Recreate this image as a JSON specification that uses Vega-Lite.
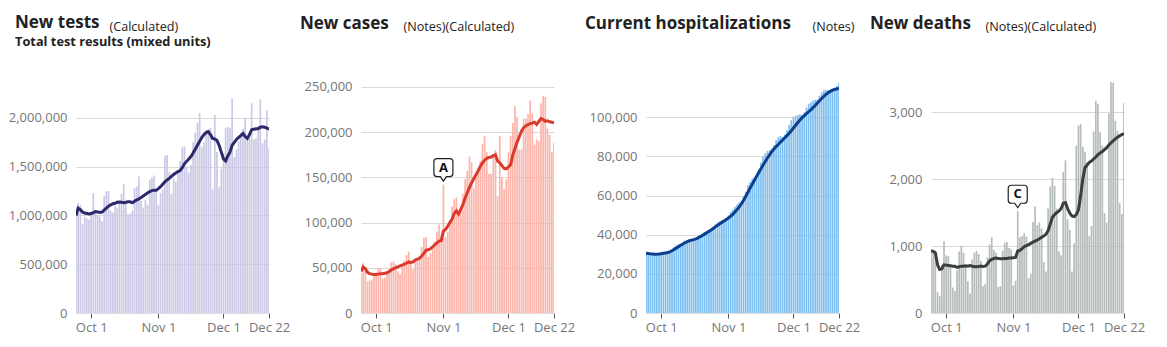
{
"$schema": "https://vega.github.io/schema/vega-lite/v6.json",
"padding": {"top": 14, "left": 8, "right": 5, "bottom": 5},
"background": "white",
"spacing": 92,
"bounds": "flush",
"config": {
  "view": {"stroke": null},
  "font": "Open Sans",
  "scale": {"continuousPadding": 0},
  "axisY": {"grid": true, "gridColor": "#d9d9d9", "domain": false, "ticks": false, "labelFontSize": 13, "labelColor": "#767676", "labelPadding": 9, "format": ",d", "zindex": 1, "titleAngle": 0, "titleAlign": "left", "titleBaseline": "alphabetic", "titleY": -52, "titleFontSize": 12.6, "titleFontWeight": "normal", "titleColor": "#222222", "titleFont": "Open Sans"},
  "axisX": {"grid": false, "domain": true, "domainColor": "#dddddd", "tickColor": "#555555", "tickSize": 5, "labelPadding": 3, "labelFontSize": 13, "labelColor": "#767676", "format": "%b %-d", "title": null, "labelOverlap": false, "labelBound": false, "labelFlush": false},
  "title": {"anchor": "start", "frame": "group", "dx": -61, "fontSize": 17, "fontWeight": "bold", "color": "#222222", "font": "Open Sans", "subtitleFont": "Open Sans", "subtitleFontSize": 12.8, "subtitleFontWeight": "bold", "subtitleColor": "#222222", "subtitlePadding": 4}
},
"datasets": {
"tests": [
{"date":"2020-09-24","daily":1000000,"avg":1000000},{"date":"2020-09-25","daily":1130000,"avg":1075000},{"date":"2020-09-26","daily":1110000,"avg":1060000},{"date":"2020-09-27","daily":910000,"avg":1035000},{"date":"2020-09-28","daily":990000,"avg":1025000},{"date":"2020-09-29","daily":970000,"avg":1020000},{"date":"2020-09-30","daily":960000,"avg":1015000},
{"date":"2020-10-01","daily":1030000,"avg":1020000},{"date":"2020-10-02","daily":1230000,"avg":1030000},{"date":"2020-10-03","daily":1050000,"avg":1040000},{"date":"2020-10-04","daily":1000000,"avg":1035000},{"date":"2020-10-05","daily":990000,"avg":1030000},{"date":"2020-10-06","daily":940000,"avg":1035000},{"date":"2020-10-07","daily":1200000,"avg":1055000},{"date":"2020-10-08","daily":1250000,"avg":1075000},{"date":"2020-10-09","daily":1250000,"avg":1095000},{"date":"2020-10-10","daily":1050000,"avg":1110000},{"date":"2020-10-11","daily":1030000,"avg":1120000},{"date":"2020-10-12","daily":1100000,"avg":1125000},{"date":"2020-10-13","daily":1080000,"avg":1135000},{"date":"2020-10-14","daily":1150000,"avg":1138000},{"date":"2020-10-15","daily":1220000,"avg":1135000},{"date":"2020-10-16","daily":1320000,"avg":1132000},{"date":"2020-10-17","daily":1140000,"avg":1135000},{"date":"2020-10-18","daily":1010000,"avg":1140000},{"date":"2020-10-19","daily":1020000,"avg":1140000},{"date":"2020-10-20","daily":1050000,"avg":1130000},{"date":"2020-10-21","daily":1280000,"avg":1145000},{"date":"2020-10-22","daily":1300000,"avg":1160000},{"date":"2020-10-23","daily":1400000,"avg":1170000},{"date":"2020-10-24","daily":1150000,"avg":1185000},{"date":"2020-10-25","daily":1080000,"avg":1200000},{"date":"2020-10-26","daily":1160000,"avg":1215000},{"date":"2020-10-27","daily":1110000,"avg":1230000},{"date":"2020-10-28","daily":1370000,"avg":1245000},{"date":"2020-10-29","daily":1390000,"avg":1255000},{"date":"2020-10-30","daily":1410000,"avg":1260000},{"date":"2020-10-31","daily":1270000,"avg":1260000},
{"date":"2020-11-01","daily":1110000,"avg":1275000},{"date":"2020-11-02","daily":1230000,"avg":1295000},{"date":"2020-11-03","daily":1270000,"avg":1320000},{"date":"2020-11-04","daily":1610000,"avg":1345000},{"date":"2020-11-05","daily":1620000,"avg":1365000},{"date":"2020-11-06","daily":1450000,"avg":1380000},{"date":"2020-11-07","daily":1220000,"avg":1400000},{"date":"2020-11-08","daily":1380000,"avg":1420000},{"date":"2020-11-09","daily":1350000,"avg":1435000},{"date":"2020-11-10","daily":1450000,"avg":1450000},{"date":"2020-11-11","daily":1560000,"avg":1460000},{"date":"2020-11-12","daily":1700000,"avg":1490000},{"date":"2020-11-13","daily":1710000,"avg":1530000},{"date":"2020-11-14","daily":1500000,"avg":1555000},{"date":"2020-11-15","daily":1440000,"avg":1580000},{"date":"2020-11-16","daily":1520000,"avg":1605000},{"date":"2020-11-17","daily":1750000,"avg":1640000},{"date":"2020-11-18","daily":1850000,"avg":1680000},{"date":"2020-11-19","daily":1950000,"avg":1720000},{"date":"2020-11-20","daily":2050000,"avg":1760000},{"date":"2020-11-21","daily":1700000,"avg":1800000},{"date":"2020-11-22","daily":1750000,"avg":1830000},{"date":"2020-11-23","daily":1880000,"avg":1850000},{"date":"2020-11-24","daily":1880000,"avg":1860000},{"date":"2020-11-25","daily":1900000,"avg":1830000},{"date":"2020-11-26","daily":1270000,"avg":1790000},{"date":"2020-11-27","daily":2030000,"avg":1785000},{"date":"2020-11-28","daily":1650000,"avg":1770000},{"date":"2020-11-29","daily":1290000,"avg":1720000},{"date":"2020-11-30","daily":1480000,"avg":1650000},
{"date":"2020-12-01","daily":1640000,"avg":1580000},{"date":"2020-12-02","daily":1900000,"avg":1560000},{"date":"2020-12-03","daily":1910000,"avg":1610000},{"date":"2020-12-04","daily":1900000,"avg":1650000},{"date":"2020-12-05","daily":2200000,"avg":1720000},{"date":"2020-12-06","daily":1600000,"avg":1750000},{"date":"2020-12-07","daily":1680000,"avg":1780000},{"date":"2020-12-08","daily":1760000,"avg":1800000},{"date":"2020-12-09","daily":1850000,"avg":1820000},{"date":"2020-12-10","daily":1890000,"avg":1840000},{"date":"2020-12-11","daily":2000000,"avg":1810000},{"date":"2020-12-12","daily":1780000,"avg":1790000},{"date":"2020-12-13","daily":1790000,"avg":1830000},{"date":"2020-12-14","daily":2150000,"avg":1880000},{"date":"2020-12-15","daily":1780000,"avg":1885000},{"date":"2020-12-16","daily":1790000,"avg":1890000},{"date":"2020-12-17","daily":1920000,"avg":1890000},{"date":"2020-12-18","daily":2190000,"avg":1905000},{"date":"2020-12-19","daily":1740000,"avg":1910000},{"date":"2020-12-20","daily":1780000,"avg":1905000},{"date":"2020-12-21","daily":2080000,"avg":1895000},{"date":"2020-12-22","daily":1690000,"avg":1885000}
],
"cases": [
{"date":"2020-09-24","daily":44000,"avg":46000},{"date":"2020-09-25","daily":55000,"avg":51000},{"date":"2020-09-26","daily":47000,"avg":49000},{"date":"2020-09-27","daily":35000,"avg":45000},{"date":"2020-09-28","daily":36000,"avg":43500},{"date":"2020-09-29","daily":37000,"avg":43000},{"date":"2020-09-30","daily":43000,"avg":42500},
{"date":"2020-10-01","daily":45000,"avg":42500},{"date":"2020-10-02","daily":50000,"avg":43000},{"date":"2020-10-03","daily":49000,"avg":43500},{"date":"2020-10-04","daily":38000,"avg":43500},{"date":"2020-10-05","daily":39000,"avg":44000},{"date":"2020-10-06","daily":44000,"avg":44500},{"date":"2020-10-07","daily":50000,"avg":46000},{"date":"2020-10-08","daily":56000,"avg":47500},{"date":"2020-10-09","daily":57000,"avg":49000},{"date":"2020-10-10","daily":54000,"avg":50000},{"date":"2020-10-11","daily":46000,"avg":51000},{"date":"2020-10-12","daily":43000,"avg":52000},{"date":"2020-10-13","daily":51000,"avg":53000},{"date":"2020-10-14","daily":58000,"avg":54000},{"date":"2020-10-15","daily":64000,"avg":55000},{"date":"2020-10-16","daily":68000,"avg":56500},{"date":"2020-10-17","daily":57000,"avg":56000},{"date":"2020-10-18","daily":48000,"avg":56500},{"date":"2020-10-19","daily":59000,"avg":58500},{"date":"2020-10-20","daily":60000,"avg":59500},{"date":"2020-10-21","daily":63000,"avg":60500},{"date":"2020-10-22","daily":73000,"avg":63000},{"date":"2020-10-23","daily":83000,"avg":66000},{"date":"2020-10-24","daily":84000,"avg":69500},{"date":"2020-10-25","daily":62000,"avg":70000},{"date":"2020-10-26","daily":66000,"avg":71000},{"date":"2020-10-27","daily":74000,"avg":73000},{"date":"2020-10-28","daily":79000,"avg":75500},{"date":"2020-10-29","daily":90000,"avg":77500},{"date":"2020-10-30","daily":98000,"avg":79500},{"date":"2020-10-31","daily":86000,"avg":80000},
{"date":"2020-11-01","daily":142000,"avg":90500},{"date":"2020-11-02","daily":84000,"avg":92500},{"date":"2020-11-03","daily":90000,"avg":96000},{"date":"2020-11-04","daily":103000,"avg":100000},{"date":"2020-11-05","daily":118000,"avg":104000},{"date":"2020-11-06","daily":126000,"avg":110000},{"date":"2020-11-07","daily":128000,"avg":113000},{"date":"2020-11-08","daily":110000,"avg":109500},{"date":"2020-11-09","daily":118000,"avg":114500},{"date":"2020-11-10","daily":132000,"avg":120000},{"date":"2020-11-11","daily":148000,"avg":127000},{"date":"2020-11-12","daily":157000,"avg":133000},{"date":"2020-11-13","daily":173000,"avg":139000},{"date":"2020-11-14","daily":167000,"avg":144000},{"date":"2020-11-15","daily":138000,"avg":148500},{"date":"2020-11-16","daily":150000,"avg":153000},{"date":"2020-11-17","daily":160000,"avg":157000},{"date":"2020-11-18","daily":168000,"avg":162000},{"date":"2020-11-19","daily":187000,"avg":166000},{"date":"2020-11-20","daily":196000,"avg":169000},{"date":"2020-11-21","daily":178000,"avg":171000},{"date":"2020-11-22","daily":154000,"avg":172000},{"date":"2020-11-23","daily":154000,"avg":172500},{"date":"2020-11-24","daily":175000,"avg":174000},{"date":"2020-11-25","daily":180000,"avg":175000},{"date":"2020-11-26","daily":129000,"avg":168000},{"date":"2020-11-27","daily":196000,"avg":166000},{"date":"2020-11-28","daily":150000,"avg":163000},{"date":"2020-11-29","daily":137000,"avg":160000},{"date":"2020-11-30","daily":148000,"avg":159500},
{"date":"2020-12-01","daily":178000,"avg":161500},{"date":"2020-12-02","daily":196000,"avg":164000},{"date":"2020-12-03","daily":210000,"avg":175000},{"date":"2020-12-04","daily":229000,"avg":182000},{"date":"2020-12-05","daily":217000,"avg":189000},{"date":"2020-12-06","daily":181000,"avg":195000},{"date":"2020-12-07","daily":181000,"avg":201000},{"date":"2020-12-08","daily":215000,"avg":205000},{"date":"2020-12-09","daily":215000,"avg":207000},{"date":"2020-12-10","daily":220000,"avg":208500},{"date":"2020-12-11","daily":235000,"avg":209500},{"date":"2020-12-12","daily":221000,"avg":210000},{"date":"2020-12-13","daily":186000,"avg":211000},{"date":"2020-12-14","daily":192000,"avg":208500},{"date":"2020-12-15","daily":190000,"avg":212000},{"date":"2020-12-16","daily":232000,"avg":215000},{"date":"2020-12-17","daily":240000,"avg":214000},{"date":"2020-12-18","daily":239000,"avg":212000},{"date":"2020-12-19","daily":204000,"avg":212500},{"date":"2020-12-20","daily":197000,"avg":211500},{"date":"2020-12-21","daily":178000,"avg":211000},{"date":"2020-12-22","daily":188000,"avg":210500}
],
"hosp": [
{"date":"2020-09-24","daily":30600,"avg":30500},{"date":"2020-09-25","daily":30200,"avg":30400},{"date":"2020-09-26","daily":30000,"avg":30200},{"date":"2020-09-27","daily":30100,"avg":30100},{"date":"2020-09-28","daily":30300,"avg":30000},{"date":"2020-09-29","daily":30200,"avg":30000},{"date":"2020-09-30","daily":30400,"avg":30100},
{"date":"2020-10-01","daily":30600,"avg":30300},{"date":"2020-10-02","daily":30900,"avg":30500},{"date":"2020-10-03","daily":31000,"avg":30700},{"date":"2020-10-04","daily":31000,"avg":30900},{"date":"2020-10-05","daily":31200,"avg":31200},{"date":"2020-10-06","daily":32500,"avg":31800},{"date":"2020-10-07","daily":33800,"avg":32500},{"date":"2020-10-08","daily":34600,"avg":33200},{"date":"2020-10-09","daily":35000,"avg":33900},{"date":"2020-10-10","daily":35100,"avg":34600},{"date":"2020-10-11","daily":35400,"avg":35300},{"date":"2020-10-12","daily":36400,"avg":36000},{"date":"2020-10-13","daily":36900,"avg":36500},{"date":"2020-10-14","daily":37400,"avg":36900},{"date":"2020-10-15","daily":37600,"avg":37200},{"date":"2020-10-16","daily":37300,"avg":37500},{"date":"2020-10-17","daily":37800,"avg":37900},{"date":"2020-10-18","daily":38900,"avg":38400},{"date":"2020-10-19","daily":39800,"avg":39000},{"date":"2020-10-20","daily":40600,"avg":39600},{"date":"2020-10-21","daily":41300,"avg":40300},{"date":"2020-10-22","daily":41800,"avg":41000},{"date":"2020-10-23","daily":42000,"avg":41700},{"date":"2020-10-24","daily":42600,"avg":42400},{"date":"2020-10-25","daily":44200,"avg":43200},{"date":"2020-10-26","daily":45300,"avg":44000},{"date":"2020-10-27","daily":46200,"avg":44800},{"date":"2020-10-28","daily":46900,"avg":45600},{"date":"2020-10-29","daily":47200,"avg":46300},{"date":"2020-10-30","daily":47600,"avg":47000},{"date":"2020-10-31","daily":48000,"avg":47700},
{"date":"2020-11-01","daily":50000,"avg":48500},{"date":"2020-11-02","daily":51500,"avg":49400},{"date":"2020-11-03","daily":52800,"avg":50400},{"date":"2020-11-04","daily":54300,"avg":51600},{"date":"2020-11-05","daily":55400,"avg":52800},{"date":"2020-11-06","daily":56400,"avg":54200},{"date":"2020-11-07","daily":57000,"avg":55800},{"date":"2020-11-08","daily":59300,"avg":57600},{"date":"2020-11-09","daily":61900,"avg":59600},{"date":"2020-11-10","daily":65400,"avg":61700},{"date":"2020-11-11","daily":67100,"avg":63800},{"date":"2020-11-12","daily":68600,"avg":65800},{"date":"2020-11-13","daily":69300,"avg":67800},{"date":"2020-11-14","daily":69600,"avg":69800},{"date":"2020-11-15","daily":73200,"avg":71800},{"date":"2020-11-16","daily":76900,"avg":73700},{"date":"2020-11-17","daily":79900,"avg":75600},{"date":"2020-11-18","daily":81600,"avg":77400},{"date":"2020-11-19","daily":82800,"avg":79200},{"date":"2020-11-20","daily":83200,"avg":80800},{"date":"2020-11-21","daily":83900,"avg":82400},{"date":"2020-11-22","daily":85700,"avg":83800},{"date":"2020-11-23","daily":88200,"avg":85000},{"date":"2020-11-24","daily":89800,"avg":86100},{"date":"2020-11-25","daily":90500,"avg":87300},{"date":"2020-11-26","daily":89900,"avg":88400},{"date":"2020-11-27","daily":91200,"avg":89500},{"date":"2020-11-28","daily":93300,"avg":90600},{"date":"2020-11-29","daily":96000,"avg":91800},{"date":"2020-11-30","daily":98500,"avg":93100},
{"date":"2020-12-01","daily":100200,"avg":94500},{"date":"2020-12-02","daily":100700,"avg":95900},{"date":"2020-12-03","daily":101200,"avg":97300},{"date":"2020-12-04","daily":101500,"avg":98600},{"date":"2020-12-05","daily":101200,"avg":99800},{"date":"2020-12-06","daily":102500,"avg":100800},{"date":"2020-12-07","daily":104900,"avg":101800},{"date":"2020-12-08","daily":106900,"avg":102800},{"date":"2020-12-09","daily":107600,"avg":103800},{"date":"2020-12-10","daily":108500,"avg":104900},{"date":"2020-12-11","daily":108900,"avg":106000},{"date":"2020-12-12","daily":109000,"avg":107200},{"date":"2020-12-13","daily":111000,"avg":108400},{"date":"2020-12-14","daily":112800,"avg":109600},{"date":"2020-12-15","daily":113700,"avg":110700},{"date":"2020-12-16","daily":114100,"avg":111700},{"date":"2020-12-17","daily":113900,"avg":112500},{"date":"2020-12-18","daily":113400,"avg":113200},{"date":"2020-12-19","daily":114300,"avg":113800},{"date":"2020-12-20","daily":115000,"avg":114200},{"date":"2020-12-21","daily":116000,"avg":114500},{"date":"2020-12-22","daily":117600,"avg":114800}
],
"deaths": [
{"date":"2020-09-24","daily":940,"avg":930},{"date":"2020-09-25","daily":900,"avg":920},{"date":"2020-09-26","daily":880,"avg":900},{"date":"2020-09-27","daily":310,"avg":720},{"date":"2020-09-28","daily":250,"avg":650},{"date":"2020-09-29","daily":720,"avg":660},{"date":"2020-09-30","daily":1070,"avg":720},
{"date":"2020-10-01","daily":860,"avg":715},{"date":"2020-10-02","daily":850,"avg":710},{"date":"2020-10-03","daily":700,"avg":705},{"date":"2020-10-04","daily":380,"avg":700},{"date":"2020-10-05","daily":330,"avg":700},{"date":"2020-10-06","daily":640,"avg":680},{"date":"2020-10-07","daily":920,"avg":690},{"date":"2020-10-08","daily":1000,"avg":700},{"date":"2020-10-09","daily":900,"avg":700},{"date":"2020-10-10","daily":700,"avg":705},{"date":"2020-10-11","daily":470,"avg":700},{"date":"2020-10-12","daily":290,"avg":710},{"date":"2020-10-13","daily":800,"avg":700},{"date":"2020-10-14","daily":900,"avg":690},{"date":"2020-10-15","daily":930,"avg":690},{"date":"2020-10-16","daily":880,"avg":695},{"date":"2020-10-17","daily":780,"avg":700},{"date":"2020-10-18","daily":400,"avg":695},{"date":"2020-10-19","daily":430,"avg":700},{"date":"2020-10-20","daily":830,"avg":730},{"date":"2020-10-21","daily":1020,"avg":780},{"date":"2020-10-22","daily":1130,"avg":800},{"date":"2020-10-23","daily":940,"avg":815},{"date":"2020-10-24","daily":900,"avg":820},{"date":"2020-10-25","daily":390,"avg":815},{"date":"2020-10-26","daily":400,"avg":810},{"date":"2020-10-27","daily":930,"avg":810},{"date":"2020-10-28","daily":1050,"avg":815},{"date":"2020-10-29","daily":1060,"avg":815},{"date":"2020-10-30","daily":970,"avg":820},{"date":"2020-10-31","daily":950,"avg":820},
{"date":"2020-11-01","daily":410,"avg":825},{"date":"2020-11-02","daily":480,"avg":830},{"date":"2020-11-03","daily":1520,"avg":925},{"date":"2020-11-04","daily":1130,"avg":935},{"date":"2020-11-05","daily":1150,"avg":960},{"date":"2020-11-06","daily":1190,"avg":990},{"date":"2020-11-07","daily":1140,"avg":1005},{"date":"2020-11-08","daily":520,"avg":1020},{"date":"2020-11-09","daily":590,"avg":1040},{"date":"2020-11-10","daily":1360,"avg":1060},{"date":"2020-11-11","daily":1590,"avg":1075},{"date":"2020-11-12","daily":1310,"avg":1090},{"date":"2020-11-13","daily":1350,"avg":1110},{"date":"2020-11-14","daily":1260,"avg":1130},{"date":"2020-11-15","daily":760,"avg":1150},{"date":"2020-11-16","daily":620,"avg":1175},{"date":"2020-11-17","daily":1560,"avg":1230},{"date":"2020-11-18","daily":1890,"avg":1330},{"date":"2020-11-19","daily":2020,"avg":1430},{"date":"2020-11-20","daily":1900,"avg":1470},{"date":"2020-11-21","daily":1560,"avg":1500},{"date":"2020-11-22","daily":920,"avg":1520},{"date":"2020-11-23","daily":860,"avg":1560},{"date":"2020-11-24","daily":2110,"avg":1640},{"date":"2020-11-25","daily":2280,"avg":1650},{"date":"2020-11-26","daily":1400,"avg":1560},{"date":"2020-11-27","daily":1240,"avg":1490},{"date":"2020-11-28","daily":620,"avg":1450},{"date":"2020-11-29","daily":1040,"avg":1440},{"date":"2020-11-30","daily":2500,"avg":1470},
{"date":"2020-12-01","daily":2800,"avg":1540},{"date":"2020-12-02","daily":2820,"avg":1750},{"date":"2020-12-03","daily":2480,"avg":2000},{"date":"2020-12-04","daily":2400,"avg":2170},{"date":"2020-12-05","daily":2250,"avg":2210},{"date":"2020-12-06","daily":1150,"avg":2250},{"date":"2020-12-07","daily":1300,"avg":2270},{"date":"2020-12-08","daily":2710,"avg":2300},{"date":"2020-12-09","daily":3170,"avg":2330},{"date":"2020-12-10","daily":3120,"avg":2365},{"date":"2020-12-11","daily":2700,"avg":2390},{"date":"2020-12-12","daily":2500,"avg":2410},{"date":"2020-12-13","daily":1490,"avg":2440},{"date":"2020-12-14","daily":1350,"avg":2470},{"date":"2020-12-15","daily":2980,"avg":2510},{"date":"2020-12-16","daily":3450,"avg":2540},{"date":"2020-12-17","daily":3440,"avg":2570},{"date":"2020-12-18","daily":2870,"avg":2600},{"date":"2020-12-19","daily":2720,"avg":2625},{"date":"2020-12-20","daily":1640,"avg":2645},{"date":"2020-12-21","daily":1480,"avg":2665},{"date":"2020-12-22","daily":3140,"avg":2680}
]
},
"hconcat": [
{
  "width": 193, "height": 231,
  "title": {"text": "New tests", "subtitle": "Total test results (mixed units)", "offset": -30},
  "data": {"name": "tests"},
  "encoding": {"x": {"field": "date", "type": "temporal", "scale": {"type": "utc", "padding": 0, "domain": [{"year": 2020, "month": "sep", "date": 24, "utc": true}, {"year": 2020, "month": "dec", "date": 22, "utc": true}]},
    "axis": {"values": [{"year": 2020, "month": "oct", "date": 1, "utc": true}, {"year": 2020, "month": "nov", "date": 1, "utc": true}, {"year": 2020, "month": "dec", "date": 1, "utc": true}, {"year": 2020, "month": "dec", "date": 22, "utc": true}]}}},
  "layer": [
    {"mark": {"type": "bar", "width": 1.7, "color": "#cbc9e5", "clip": true},
     "encoding": {"y": {"field": "daily", "type": "quantitative", "title": "(Calculated)", "scale": {"domain": [0, 2369000], "nice": false}, "axis": {"values": [0, 500000, 1000000, 1500000, 2000000], "titleX": 33}}}},
    {"mark": {"type": "line", "color": "#2c2a6b", "strokeWidth": 3, "clip": true},
     "encoding": {"y": {"field": "avg", "type": "quantitative", "title": "(Calculated)"}}}
  ]
},
{
  "width": 193, "height": 231,
  "title": {"text": "New cases", "offset": -13},
  "data": {"name": "cases"},
  "encoding": {"x": {"field": "date", "type": "temporal", "scale": {"type": "utc", "padding": 0, "domain": [{"year": 2020, "month": "sep", "date": 24, "utc": true}, {"year": 2020, "month": "dec", "date": 22, "utc": true}]},
    "axis": {"values": [{"year": 2020, "month": "oct", "date": 1, "utc": true}, {"year": 2020, "month": "nov", "date": 1, "utc": true}, {"year": 2020, "month": "dec", "date": 1, "utc": true}, {"year": 2020, "month": "dec", "date": 22, "utc": true}]}}},
  "layer": [
    {"mark": {"type": "bar", "width": 1.7, "color": "#fdb4aa", "clip": true},
     "encoding": {"y": {"field": "daily", "type": "quantitative", "title": "(Notes)(Calculated)", "scale": {"domain": [0, 255500], "nice": false}, "axis": {"values": [0, 50000, 100000, 150000, 200000, 250000], "titleX": 42}}}},
    {"mark": {"type": "line", "color": "#d93a2c", "strokeWidth": 3, "clip": true},
     "encoding": {"y": {"field": "avg", "type": "quantitative", "title": "(Notes)(Calculated)"}}},
    {"data": {"values": [{"date": "2020-11-01", "value": 142000, "label": "A"}]},
     "mark": {"type": "point", "shape": "M -0.65 -2.6 L 0.65 -2.6 Q 0.95 -2.6 0.95 -2.3 L 0.95 -1.1 Q 0.95 -0.8 0.65 -0.8 L 0.3 -0.8 L 0 -0.35 L -0.3 -0.8 L -0.65 -0.8 Q -0.95 -0.8 -0.95 -1.1 L -0.95 -2.3 Q -0.95 -2.6 -0.65 -2.6 Z", "size": 400, "filled": true, "fill": "white", "stroke": "#222222", "strokeWidth": 1.2, "opacity": 1},
     "encoding": {"y": {"field": "value", "type": "quantitative", "title": "(Notes)(Calculated)"}}},
    {"data": {"values": [{"date": "2020-11-01", "value": 142000, "label": "A"}]},
     "mark": {"type": "text", "dy": -17, "fontWeight": "bold", "fontSize": 13, "color": "#111111", "baseline": "middle"},
     "encoding": {"y": {"field": "value", "type": "quantitative", "title": "(Notes)(Calculated)"}, "text": {"field": "label"}}}
  ]
},
{
  "width": 193, "height": 231,
  "title": {"text": "Current hospitalizations", "offset": -13},
  "data": {"name": "hosp"},
  "encoding": {"x": {"field": "date", "type": "temporal", "scale": {"type": "utc", "padding": 0, "domain": [{"year": 2020, "month": "sep", "date": 24, "utc": true}, {"year": 2020, "month": "dec", "date": 22, "utc": true}]},
    "axis": {"values": [{"year": 2020, "month": "oct", "date": 1, "utc": true}, {"year": 2020, "month": "nov", "date": 1, "utc": true}, {"year": 2020, "month": "dec", "date": 1, "utc": true}, {"year": 2020, "month": "dec", "date": 22, "utc": true}]}}},
  "layer": [
    {"mark": {"type": "bar", "width": 1.7, "color": "#7dbff0", "clip": true},
     "encoding": {"y": {"field": "daily", "type": "quantitative", "title": "(Notes)", "scale": {"domain": [0, 118000], "nice": false}, "axis": {"values": [0, 20000, 40000, 60000, 80000, 100000], "titleX": 166}}}},
    {"mark": {"type": "line", "color": "#0c3f8d", "strokeWidth": 3, "clip": true},
     "encoding": {"y": {"field": "avg", "type": "quantitative", "title": "(Notes)"}}}
  ]
},
{
  "width": 193, "height": 231,
  "title": {"text": "New deaths", "offset": -13},
  "data": {"name": "deaths"},
  "encoding": {"x": {"field": "date", "type": "temporal", "scale": {"type": "utc", "padding": 0, "domain": [{"year": 2020, "month": "sep", "date": 24, "utc": true}, {"year": 2020, "month": "dec", "date": 22, "utc": true}]},
    "axis": {"values": [{"year": 2020, "month": "oct", "date": 1, "utc": true}, {"year": 2020, "month": "nov", "date": 1, "utc": true}, {"year": 2020, "month": "dec", "date": 1, "utc": true}, {"year": 2020, "month": "dec", "date": 22, "utc": true}]}}},
  "layer": [
    {"mark": {"type": "bar", "width": 1.7, "color": "#b5bcbb", "clip": true},
     "encoding": {"y": {"field": "daily", "type": "quantitative", "title": "(Notes)(Calculated)", "scale": {"domain": [0, 3450], "nice": false}, "axis": {"values": [0, 1000, 2000, 3000], "titleX": 54}}}},
    {"mark": {"type": "line", "color": "#3b3d3e", "strokeWidth": 3, "clip": true},
     "encoding": {"y": {"field": "avg", "type": "quantitative", "title": "(Notes)(Calculated)"}}},
    {"data": {"values": [{"date": "2020-11-03", "value": 1520, "label": "C"}]},
     "mark": {"type": "point", "shape": "M -0.65 -2.6 L 0.65 -2.6 Q 0.95 -2.6 0.95 -2.3 L 0.95 -1.1 Q 0.95 -0.8 0.65 -0.8 L 0.3 -0.8 L 0 -0.35 L -0.3 -0.8 L -0.65 -0.8 Q -0.95 -0.8 -0.95 -1.1 L -0.95 -2.3 Q -0.95 -2.6 -0.65 -2.6 Z", "size": 400, "filled": true, "fill": "white", "stroke": "#222222", "strokeWidth": 1.2, "opacity": 1},
     "encoding": {"y": {"field": "value", "type": "quantitative", "title": "(Notes)(Calculated)"}}},
    {"data": {"values": [{"date": "2020-11-03", "value": 1520, "label": "C"}]},
     "mark": {"type": "text", "dy": -17, "fontWeight": "bold", "fontSize": 13, "color": "#111111", "baseline": "middle"},
     "encoding": {"y": {"field": "value", "type": "quantitative", "title": "(Notes)(Calculated)"}, "text": {"field": "label"}}}
  ]
}
]
}
